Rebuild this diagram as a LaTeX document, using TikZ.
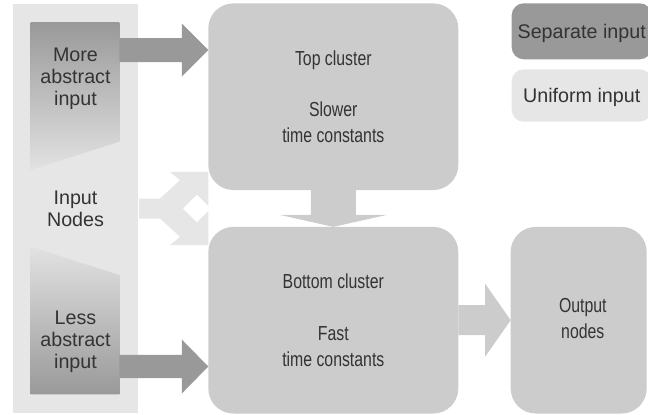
\documentclass[tikz,border=0pt]{standalone}
\usepackage{fontspec}
\setmainfont{Liberation Sans}
\newfontfamily\narrowfont[FakeStretch=0.78]{Liberation Sans}
\usetikzlibrary{calc}

\definecolor{gDark}{HTML}{999999}
\definecolor{gMid}{HTML}{CCCCCC}
\definecolor{gLight}{HTML}{E6E6E6}
\definecolor{gFade}{HTML}{E2E2E2}
\definecolor{gInk}{HTML}{333333}

\newcommand\sidefont{\fontsize{19.7pt}{22pt}\selectfont}
\newcommand\clusterfont{\narrowfont\fontsize{20.3pt}{25.7pt}\selectfont}

% horizontal block arrow: #1 colour, #2 start point, #3 target anchor (its x is the tip),
% #4 half shaft width, #5 half head width, #6 head length (all in pt)
\newcommand\blockarrow[6]{%
  \fill[#1] let \p1=(#2), \p2=(#3) in
    (\x1,\y1+#4pt) -- (\x2-#6pt,\y1+#4pt) -- (\x2-#6pt,\y1+#5pt) -- (\x2,\y1)
    -- (\x2-#6pt,\y1-#5pt) -- (\x2-#6pt,\y1-#4pt) -- (\x1,\y1-#4pt) -- cycle;}

\tikzset{
  every node/.style={inner sep=0pt, outer sep=0pt},
  panel/.style={fill=gLight, minimum width=125pt, minimum height=409pt,
    align=center, text=gInk, font=\sidefont},
  slot/.style={minimum width=88.6pt, minimum height=#1},
  sidetext/.style={align=center, text=gInk, font=\sidefont},
  cluster/.style={fill=gMid, rounded corners=25pt, minimum width=250pt,
    minimum height=186.6pt, align=center, text=gInk, font=\clusterfont},
  clustertext/.style={align=center, text=gInk, font=\clusterfont},
  legendbox/.style={rounded corners=12pt, minimum width=140pt, text=gInk,
    font=\sidefont, text height=14pt, text depth=0pt},
}

\begin{document}
\begin{tikzpicture}[x=1pt, y=-1pt]
\useasboundingbox (0,0) rectangle (648,415);

% input column
\node[panel] (inbg) at (75.5,208.5) {Input\\Nodes};

\node[slot=148pt] (more) at (75,96) {};
\shade[top color=gDark, bottom color=gFade]
  (more.north west) -- (more.north east) -- ($(more.south east)+(0,-28.3)$)
  -- (more.south west) -- cycle;
\node[sidetext] (moretext) at (75.5,78.3) {More\\abstract\\input};

\node[slot=147.6pt] (less) at (75,320.5) {};
\shade[top color=gFade, bottom color=gDark]
  (less.north west) -- ($(less.north east)+(0,28.3)$) -- (less.south east)
  -- (less.south west) -- cycle;
\node[sidetext] (lesstext) at (75.5,341.3) {Less\\abstract\\input};

% clusters and output
\node[cluster] (top) at (333.3,96.7) {Top cluster\\[25.7pt]Slower\\time constants};
\node[cluster] (bot) at (333.3,320.2) {Bottom cluster\\[25.7pt]Fast\\time constants};
\node[cluster, minimum width=136pt] (out) at (578.7,320.2) {};
\node[clustertext] (outtext) at (582.8,318.5) {Output\\nodes};

% legend
\node[legendbox, fill=gDark, minimum height=56pt] (sep) at (581.7,31.3) {Separate input};
\node[legendbox, fill=gLight, minimum height=52.4pt] (uni) at (581.7,95.5) {Uniform input};

% separate inputs
\blockarrow{gDark}{$(more.north east)+(0,28)$}{top.west}{12}{26.5}{26.5}
\blockarrow{gDark}{$(less.south east)+(0,-27.8)$}{bot.west}{11.7}{27}{26.5}

% bottom cluster to output nodes
\blockarrow{gMid}{bot.east}{out.west}{15}{36.7}{25.7}

% top cluster down to bottom cluster
\fill[gMid] let \p1=(top.south), \p2=(bot.north) in
  (\x1-22.5pt,\y1) -- (\x1-22.5pt,\y2+12pt) -- (\x1-53.5pt,\y2+12pt) -- (\x1,\y2)
  -- (\x1+53.5pt,\y2+12pt) -- (\x1+22.5pt,\y2+12pt) -- (\x1+22.5pt,\y1) -- cycle;

% uniform input, forked towards both clusters
\fill[gLight] let \p1=(inbg.east), \p2=(bot.west |- inbg.east) in
  (\x1+1pt,\y1+10pt) -- (\x1+22pt,\y1+10pt) -- (\x1+42pt,\y1+28.3pt)
  -- (\x1+32pt,\y1+36.6pt) -- (\x2,\y1+36.6pt) -- (\x2,\y1+2.5pt)
  -- (\x2-11.5pt,\y1+14pt) -- (\x2-25.5pt,\y1) -- (\x2-11.5pt,\y1-14pt)
  -- (\x2,\y1-2.5pt) -- (\x2,\y1-36.6pt) -- (\x1+32pt,\y1-36.6pt)
  -- (\x1+42pt,\y1-28.3pt) -- (\x1+22pt,\y1-10pt) -- (\x1+1pt,\y1-10pt) -- cycle;
\end{tikzpicture}
\end{document}
